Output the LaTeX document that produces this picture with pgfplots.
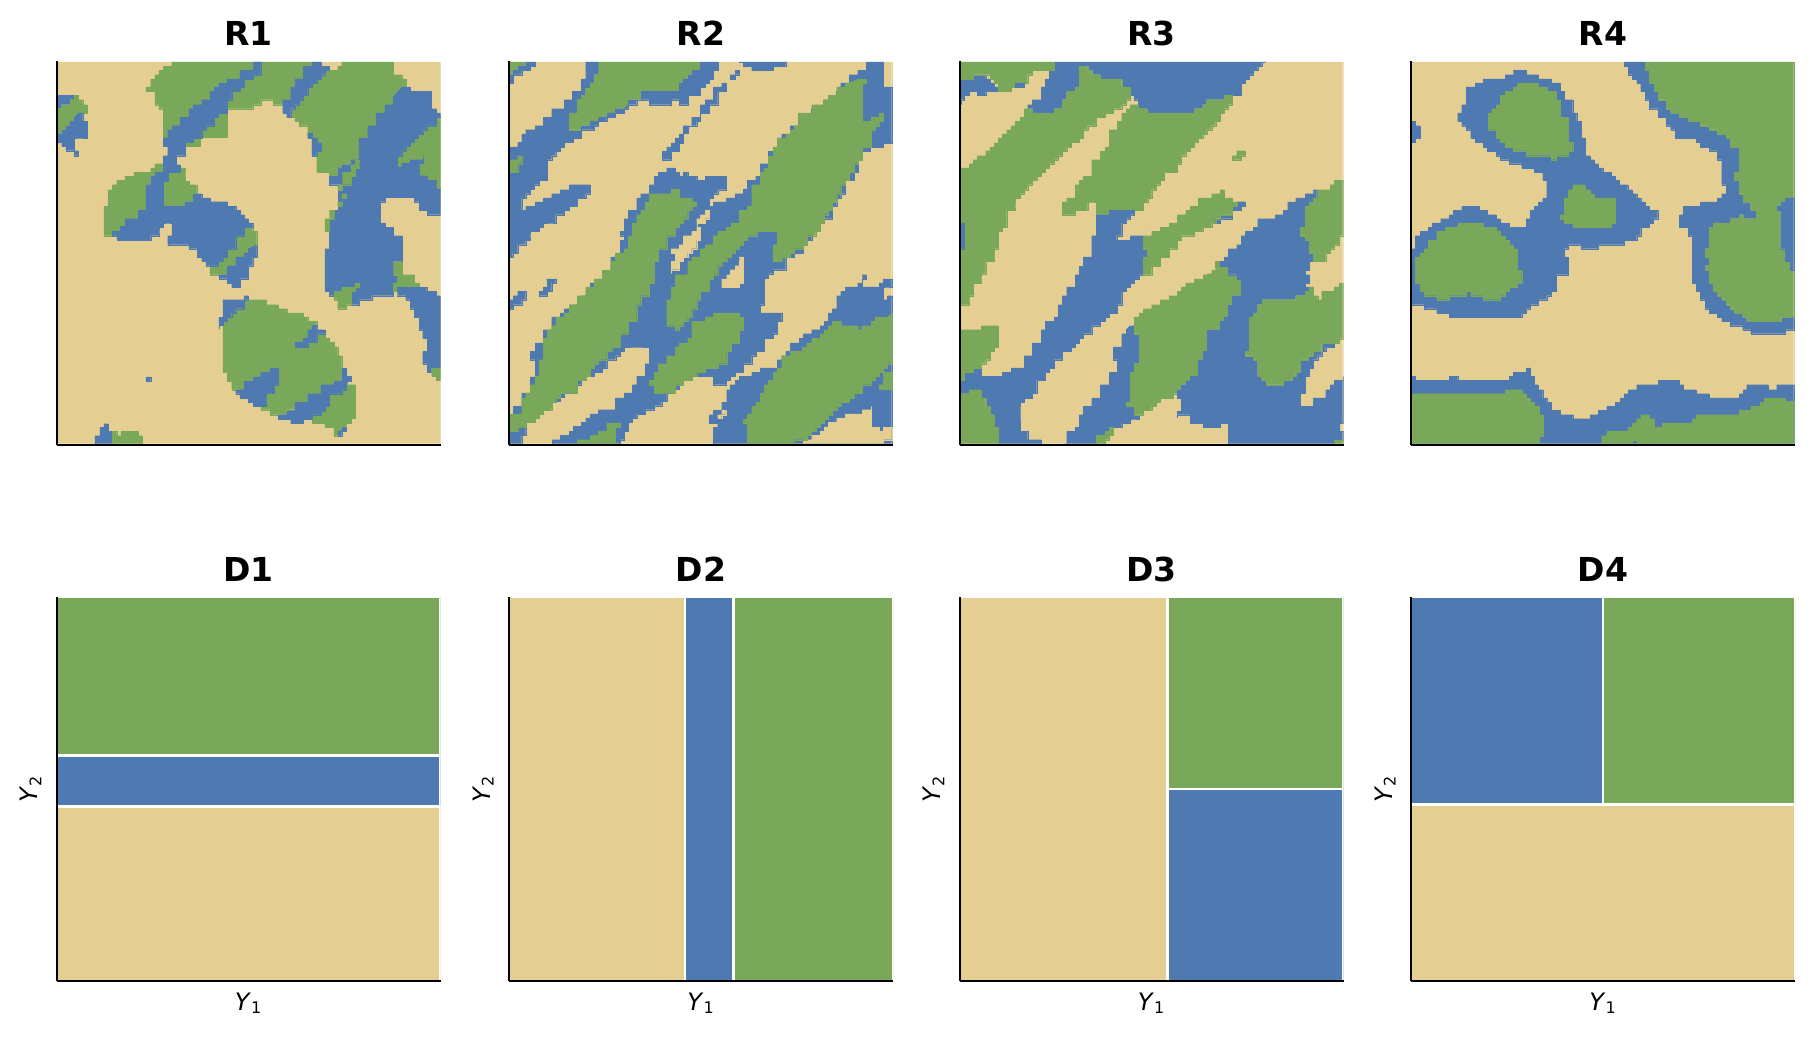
\documentclass[border=0pt]{standalone}
\usepackage{fontspec}
\setmainfont{DejaVu Sans}
\usepackage{pgfplots}
\pgfplotsset{compat=1.18}
\definecolor{cb}{RGB}{78,121,177}
\definecolor{cg}{RGB}{122,168,91}
\definecolor{ct}{RGB}{228,206,146}
\pgfplotsset{stepcb/.style={const plot},stepct/.style={const plot},stepcg/.style={const plot mark right}}
\newcommand\poly[2]{\addplot[step#1,draw=#1,line width=0.15pt,fill=#1] coordinates {#2};}
\newcommand\rect[2]{\addplot[draw=white,line width=1.3pt,fill=#1] coordinates {#2};}
\pgfplotsset{
 panel/.style={scale only axis,width=192pt,height=192pt,anchor=south west,
  xtick=\empty,ytick=\empty,axis on top,clip=true,
  axis line style={-,line width=1pt},
  title style={at={(axis description cs:0.5,1)},anchor=base,yshift=1.7pt,font=\fontsize{16.5}{19}\selectfont\bfseries},
  every axis x label/.style={at={(axis description cs:0.5,0)},anchor=base,yshift=-14.5pt,font=\fontsize{12}{14}\selectfont},
  every axis y label/.style={at={(axis description cs:0,0.5)},anchor=base,rotate=90,yshift=9.5pt,font=\fontsize{12}{14}\selectfont}},
 toppanel/.style={panel,axis y line*=left,axis x line*=bottom,y dir=reverse,ymin=34,ymax=1186},
 botpanel/.style={panel,axis y line*=left,axis x line*=bottom,xmin=0,xmax=1,ymin=0,ymax=1,
   xlabel={\textit{Y}\textsubscript{1}},ylabel={\textit{Y}\textsubscript{2}}}
}
\begin{document}
\begin{tikzpicture}
\path[use as bounding box] (0,0) rectangle (906.5pt,519pt);
% ---------- R1
\begin{axis}[toppanel,at={(28.33pt,296.5pt)},xmin=50,xmax=1202,title={R1}]
\poly{ct}{(53,37)(1200,37)(1200,1182)(53,1182)}
\poly{cg}{(395,37)(830,37)(830,75)(745,165)(700,165)(700,150)(662,150)(662,165)(638,165)(638,177)(562,177)(562,200)(480,262)(383,290)(370,270)(370,190)(357,177)(345,165)(345,137)(332,125)(318,125)(318,112)(332,112)(345,88)(357,75)(370,62)(383,50)(395,50)}
\poly{cg}{(905,37)(1060,37)(1060,75)(1085,75)(1098,88)(1098,125)(1060,190)(957,330)(930,345)(905,345)(893,355)(868,380)(843,368)(830,368)(830,318)(816,318)(816,265)(803,265)(803,240)(778,228)(765,215)(752,203)(752,190)(765,177)(777,165)(790,150)(803,137)(815,112)(830,100)(843,88)(855,75)(868,62)(893,62)(893,50)(905,50)}
\poly{cg}{(1060,200)(1200,200)(1200,420)(1137,420)(1137,385)(1060,385)}
\poly{cg}{(420,355)(435,355)(435,368)(447,395)(470,405)(470,432)(460,432)(435,456)(435,470)(365,470)(365,410)(378,385)(385,360)}
\poly{cg}{(345,342)(370,342)(370,355)(345,368)(332,380)(332,405)(330,470)(320,500)(295,520)(268,540)(235,560)(215,558)(192,558)(192,470)(204,470)(204,432)(217,420)(230,405)(255,392)(282,380)(305,368)(332,368)(332,355)(345,355)}
\poly{cg}{(612,533)(638,533)(650,545)(650,600)(625,620)(600,640)(575,660)(550,675)(510,675)(510,640)(548,620)(575,585)(600,545)}
\poly{cb}{(640,37)(662,37)(662,75)(638,88)(612,112)(600,125)(575,150)(562,177)(562,190)(535,203)(523,228)(498,240)(485,265)(460,265)(460,278)(436,278)(436,318)(408,318)(408,345)(420,345)(420,368)(395,368)(385,395)(370,420)(370,470)(435,470)(435,456)(460,432)(485,432)(485,445)(510,445)(510,456)(562,456)(562,470)(587,470)(587,482)(600,482)(600,495)(612,495)(612,507)(625,507)(625,520)(638,520)(638,533)(625,533)(612,558)(587,585)(587,597)(575,597)(562,622)(548,635)(535,648)(510,648)(498,635)(485,622)(472,622)(472,597)(447,597)(447,585)(383,585)(383,558)(396,558)(396,520)(383,520)(370,533)(357,545)(357,558)(332,558)(332,572)(231,572)(231,558)(217,558)(217,545)(230,545)(240,530)(255,507)(282,507)(295,482)(318,470)(318,405)(332,405)(332,380)(345,368)(370,355)(370,318)(383,318)(383,290)(370,290)(370,265)(383,265)(383,240)(396,228)(420,203)(447,177)(460,165)(485,150)(510,125)(523,112)(537,100)(562,88)(600,62)(640,50)}
\poly{cb}{(650,585)(650,622)(638,622)(638,648)(625,648)(625,687)(600,687)(600,713)(575,713)(575,700)(562,700)(562,687)(537,687)(537,675)(562,648)(587,622)(612,610)(625,597)}
\poly{cb}{(816,37)(843,37)(843,50)(855,50)(868,62)(855,75)(843,88)(830,100)(815,112)(803,137)(790,150)(777,165)(765,177)(752,190)(752,203)(740,203)(740,190)(728,190)(728,150)(740,150)(752,137)(752,112)(765,112)(765,88)(790,88)(790,50)(816,50)}
\poly{cb}{(803,250)(816,250)(816,265)(830,265)(830,280)(843,280)(843,305)(830,305)(830,318)(816,318)(816,265)(803,265)}
\poly{cb}{(1085,112)(1110,112)(1110,125)(1173,125)(1173,177)(1188,177)(1188,190)(1200,190)(1200,203)(1188,203)(1188,228)(1175,228)(1160,240)(1148,253)(1135,265)(1122,278)(1110,290)(1097,303)(1085,320)(1072,330)(1072,352)(1085,352)(1085,340)(1110,340)(1110,330)(1150,318)(1150,340)(1137,345)(1137,378)(1160,392)(1188,405)(1188,418)(1200,418)(1200,495)(1162,495)(1162,482)(1137,482)(1137,456)(1122,456)(1122,443)(1035,443)(1035,456)(1020,456)(1020,520)(1035,520)(1035,533)(1060,533)(1060,558)(1086,558)(1086,636)(1060,636)(1060,675)(1072,675)(1072,700)(1060,700)(1060,738)(995,738)(995,750)(957,750)(957,765)(933,765)(933,725)(920,725)(905,713)(905,725)(880,725)(880,738)(868,738)(868,725)(855,725)(855,597)(868,597)(868,508)(880,482)(895,470)(895,420)(905,405)(880,405)(868,392)(868,380)(893,355)(905,345)(933,330)(957,318)(957,265)(983,228)(1008,190)(1035,165)(1060,140)}
\poly{cg}{(907,368)(933,368)(933,355)(945,345)(957,330)(957,342)(945,355)(933,380)(933,395)(907,405)}
\poly{cg}{(868,482)(882,482)(882,507)(868,507)(868,545)(855,545)(855,507)(868,507)}
\poly{cg}{(893,456)(905,456)(905,470)(893,470)}
\poly{cg}{(905,432)(918,432)(918,445)(905,445)}
\poly{cg}{(893,405)(905,405)(905,420)(893,420)}
\poly{cg}{(945,700)(957,700)(957,713)(945,713)(945,725)(933,725)(933,765)(918,765)(918,777)(893,777)(893,750)(882,750)(882,725)(905,725)(905,713)(945,713)}
\poly{cb}{(53,137)(103,137)(103,150)(90,150)(90,165)(65,165)(65,177)(53,177)}
\poly{cg}{(53,177)(65,177)(65,165)(90,165)(90,150)(103,150)(103,137)(115,137)(115,150)(128,150)(128,165)(141,165)(141,190)(115,190)(103,203)(90,215)(78,228)(65,240)(53,253)}
\poly{cb}{(115,190)(128,190)(128,215)(141,215)(141,265)(115,265)(103,278)(103,303)(115,303)(115,318)(103,318)(103,303)(78,303)(78,290)(65,290)(65,278)(53,278)(53,253)(65,240)(78,228)(90,215)(103,203)}
\poly{cg}{(612,750)(678,750)(678,765)(715,765)(715,777)(740,777)(740,790)(790,790)(790,803)(803,803)(803,815)(830,815)(830,840)(855,852)(868,865)(882,878)(882,892)(893,892)(893,918)(905,918)(905,980)(920,995)(945,1005)(945,1105)(933,1105)(933,1120)(918,1120)(918,1133)(905,1145)(893,1158)(882,1158)(882,1145)(855,1133)(855,1120)(816,1120)(816,1105)(740,1080)(728,1095)(690,1095)(690,1080)(662,1080)(662,1070)(640,1060)(600,1040)(587,1020)(575,1020)(575,995)(562,995)(562,968)(549,968)(549,815)(562,815)(562,803)(575,803)(575,790)(587,790)(587,777)(612,777)}
\poly{cb}{(549,750)(612,750)(612,738)(625,738)(625,750)(612,750)(612,777)(587,777)(587,790)(575,790)(575,803)(562,803)(562,815)(549,815)(549,827)(537,840)(537,803)(549,803)}
\poly{cb}{(816,827)(830,827)(830,840)(855,840)(855,852)(843,852)(830,878)(803,878)(803,892)(765,892)(765,878)(778,878)(790,865)(803,840)(816,840)}
\poly{cb}{(690,955)(715,955)(715,1005)(703,1005)(703,1030)(690,1030)(678,1045)(678,1070)(640,1070)(640,1058)(625,1058)(625,1045)(600,1045)(600,1032)(587,1032)(587,1020)(600,1020)(612,995)(640,995)(640,982)(662,982)(662,968)(690,968)}
\poly{cb}{(905,955)(918,955)(918,980)(933,980)(933,995)(918,995)(918,1020)(905,1020)(905,1032)(893,1032)(868,1045)(868,1070)(855,1083)(843,1095)(816,1108)(790,1108)(790,1120)(752,1120)(752,1108)(715,1108)(715,1095)(740,1095)(740,1083)(765,1058)(803,1045)(803,1032)(830,1032)(843,1020)(843,1005)(868,1005)(882,995)(905,980)}
\poly{cb}{(893,1145)(905,1145)(905,1133)(918,1133)(918,1145)(905,1145)(905,1158)(893,1158)}
\poly{cb}{(318,982)(332,982)(332,994)(318,994)}
\poly{cb}{(165,1182)(165,1158)(180,1158)(180,1133)(192,1133)(192,1122)(204,1122)(204,1145)(217,1145)(217,1182)}
\poly{cg}{(217,1182)(217,1145)(230,1145)(230,1158)(243,1158)(243,1145)(295,1145)(295,1158)(306,1158)(306,1182)}
\poly{cg}{(1060,636)(1086,636)(1086,675)(1122,675)(1122,700)(1137,700)(1137,713)(1072,713)(1072,725)(1060,725)(1060,700)(1072,700)(1072,675)(1060,675)}
\poly{cb}{(1072,713)(1160,713)(1160,725)(1188,725)(1188,738)(1200,738)(1200,955)(1175,955)(1175,968)(1162,968)(1162,942)(1148,942)(1148,905)(1162,905)(1162,866)(1148,866)(1148,840)(1137,840)(1137,803)(1122,803)(1122,777)(1110,777)(1110,750)(1097,750)(1097,738)(1072,738)}
\poly{cg}{(1175,955)(1200,955)(1200,992)(1188,992)(1188,980)(1175,980)(1175,968)}
\end{axis}
% ---------- R2
\begin{axis}[toppanel,at={(254.5pt,296.5pt)},xmin=42,xmax=1194,title={R2}]
\poly{ct}{(45,37)(1190,37)(1190,1182)(45,1182)}
\poly{cb}{(272,37)(310,37)(310,75)(297,100)(285,115)(272,140)(258,150)(246,165)(246,190)(222,205)(222,240)(258,240)(258,265)(235,265)(235,278)(208,292)(196,305)(182,318)(170,330)(157,342)(157,392)(132,392)(132,405)(118,418)(105,432)(92,445)(80,457)(80,482)(92,482)(92,470)(120,470)(120,457)(145,457)(145,445)(170,445)(170,432)(196,432)(196,420)(222,420)(222,405)(285,405)(285,432)(272,432)(272,445)(246,445)(246,470)(222,470)(222,482)(208,482)(208,495)(196,495)(182,520)(170,520)(145,533)(132,545)(105,558)(105,572)(92,572)(92,585)(68,597)(68,610)(53,610)(53,622)(45,622)(45,292)(68,278)(80,253)(92,240)(120,240)(120,228)(132,228)(145,203)(170,177)(196,177)(208,150)(232,125)(258,112)(258,88)(272,88)}
\poly{cg}{(310,37)(616,37)(616,50)(590,62)(578,75)(565,88)(552,100)(552,112)(540,125)(437,125)(437,137)(400,150)(400,165)(385,177)(360,177)(335,190)(310,203)(285,215)(258,228)(258,240)(222,240)(222,203)(246,190)(246,165)(258,150)(272,137)(285,115)(297,100)(310,75)}
\poly{cg}{(45,330)(68,330)(68,318)(80,318)(80,342)(68,342)(68,355)(45,368)}
\poly{cg}{(45,37)(92,37)(92,50)(68,50)(68,62)(45,75)}
\poly{cb}{(92,37)(120,37)(120,50)(105,50)(105,62)(80,62)(80,75)(55,88)(55,100)(45,100)(45,75)(55,62)(68,62)(68,50)(92,50)}
\poly{cb}{(616,37)(670,37)(670,62)(655,62)(655,88)(643,100)(630,112)(616,137)(580,137)(580,165)(552,165)(552,150)(528,150)(528,165)(463,165)(463,150)(425,150)(425,165)(400,165)(400,150)(437,137)(437,125)(540,125)(552,112)(552,100)(565,88)(578,75)(590,62)(616,50)}
\poly{cb}{(400,165)(400,177)(387,177)(387,190)(360,190)(360,203)(335,203)(335,215)(310,215)(310,228)(297,228)(297,240)(258,240)(258,228)(285,215)(310,203)(335,190)(360,177)(385,177)}
\poly{cb}{(733,37)(872,37)(872,50)(835,50)(835,62)(770,62)(770,50)(745,50)(745,37)}
\poly{cb}{(720,62)(733,62)(733,75)(720,75)(720,88)(705,88)(705,75)(720,75)}
\poly{cb}{(680,100)(693,100)(693,125)(680,125)(668,150)(668,165)(643,165)(643,190)(616,190)(616,215)(605,228)(580,240)(580,250)(565,250)(565,280)(552,280)(552,305)(528,318)(528,330)(502,330)(502,305)(515,292)(528,292)(528,280)(540,280)(540,265)(552,265)(552,253)(565,253)(565,228)(578,228)(590,203)(605,203)(616,165)(630,150)(655,137)(655,112)(680,112)}
\poly{cb}{(515,355)(540,355)(540,368)(552,368)(552,380)(565,380)(565,368)(578,368)(578,380)(605,380)(605,392)(630,392)(630,380)(693,380)(693,420)(680,420)(668,432)(655,445)(643,457)(643,470)(655,470)(655,457)(693,457)(693,445)(720,445)(720,432)(745,432)(745,418)(757,405)(757,392)(782,392)(782,380)(795,368)(795,342)(820,342)(820,305)(835,305)(847,292)(847,265)(860,265)(860,253)(885,240)(885,228)(910,215)(910,203)(948,190)(948,177)(985,165)(985,150)(1000,137)(1023,125)(1037,112)(1037,100)(1062,88)(1062,75)(1088,75)(1088,62)(1113,50)(1113,37)(1165,37)(1165,112)(1190,112)(1190,280)(1165,280)(1165,292)(1125,292)(1125,305)(1102,318)(1102,330)(1090,342)(1090,368)(1077,380)(1077,392)(1050,405)(1050,432)(1037,445)(1025,470)(1012,482)(1012,507)(985,520)(975,545)(950,558)(950,572)(937,585)(925,597)(925,610)(898,622)(872,635)(872,660)(835,672)(820,685)(808,700)(808,765)(795,765)(795,790)(860,790)(860,815)(847,815)(847,852)(835,852)(835,866)(808,880)(808,905)(783,918)(770,942)(745,942)(745,968)(720,968)(720,980)(705,992)(693,1005)(655,1005)(655,980)(605,980)(590,992)(565,992)(565,1005)(552,1018)(540,1030)(515,1042)(515,1055)(500,1068)(478,1068)(478,1080)(450,1080)(450,1093)(425,1093)(425,1105)(412,1105)(412,1118)(400,1118)(400,1145)(387,1145)(387,1170)(375,1170)(375,1182)(172,1182)(172,1170)(196,1170)(196,1157)(222,1145)(235,1130)(258,1118)(272,1105)(285,1093)(310,1080)(360,1068)(360,1045)(387,1030)(412,1018)(412,1005)(425,1005)(425,980)(450,980)(450,942)(463,942)(463,892)(425,892)(387,905)(375,918)(362,930)(335,955)(322,968)(297,980)(272,992)(258,1005)(245,1018)(235,1030)(208,1043)(196,1055)(170,1068)(157,1082)(145,1093)(132,1105)(120,1118)(92,1132)(92,1157)(80,1170)(80,1182)(45,1182)(45,1095)(55,1095)(55,1070)(80,1058)(80,1030)(92,1030)(105,1018)(105,982)(120,982)(120,930)(105,930)(105,905)(120,905)(120,880)(145,866)(145,840)(170,828)(170,802)(196,790)(208,777)(222,765)(246,750)(258,738)(272,725)(285,700)(310,688)(322,675)(335,662)(347,650)(347,622)(375,610)(375,572)(387,558)(375,545)(387,507)(400,482)(425,470)(425,445)(437,432)(463,420)(463,405)(477,392)(477,380)(490,368)(515,368)}
\poly{cg}{(1090,88)(1113,88)(1113,100)(1102,100)(1102,190)(1128,215)(1128,203)(1152,203)(1152,190)(1165,190)(1165,215)(1152,215)(1140,228)(1128,240)(1128,280)(1102,292)(1102,318)(1090,330)(1077,342)(1062,368)(1050,392)(1037,405)(1025,432)(1012,457)(1000,482)(987,495)(975,520)(962,545)(937,558)(937,572)(925,585)(898,597)(885,610)(860,622)(860,635)(835,635)(835,597)(847,585)(847,545)(785,545)(785,558)(757,558)(757,572)(745,572)(732,585)(720,597)(708,610)(695,622)(680,635)(668,648)(668,672)(655,675)(643,688)(643,712)(630,725)(616,725)(616,750)(605,750)(605,777)(590,777)(578,802)(565,815)(552,828)(552,840)(540,840)(540,828)(515,828)(515,790)(528,765)(515,765)(515,750)(528,750)(528,725)(540,712)(540,700)(578,675)(578,645)(590,635)(616,622)(630,597)(655,585)(668,558)(693,545)(708,533)(733,520)(733,495)(757,482)(770,470)(770,430)(795,405)(795,392)(808,368)(820,355)(835,320)(847,292)(872,265)(885,253)(898,240)(910,228)(950,190)(985,165)(1000,150)(1025,137)(1050,112)(1062,100)}
\poly{cg}{(528,418)(552,418)(552,445)(590,445)(590,457)(603,457)(603,470)(590,470)(578,482)(578,507)(565,507)(552,520)(540,533)(515,558)(515,585)(502,597)(490,597)(490,635)(477,635)(477,700)(463,700)(463,725)(437,738)(437,765)(425,765)(425,802)(400,815)(400,840)(375,852)(375,880)(350,892)(335,905)(310,930)(297,942)(285,955)(272,980)(246,992)(246,1018)(222,1030)(196,1030)(182,1045)(170,1058)(145,1082)(132,1093)(120,1105)(92,1118)(80,1132)(68,1132)(68,1145)(45,1145)(45,1107)(80,1093)(80,1070)(92,1045)(105,1030)(120,1005)(132,980)(132,955)(145,930)(145,905)(157,866)(170,840)(182,828)(208,802)(222,790)(246,765)(272,738)(297,712)(322,688)(347,662)(360,635)(387,610)(400,597)(412,558)(425,520)(437,495)(450,482)(463,457)(490,432)(528,432)}
\poly{cg}{(655,790)(733,790)(733,802)(745,802)(745,840)(733,840)(733,866)(708,880)(708,905)(695,905)(670,942)(630,955)(630,968)(605,968)(590,980)(565,992)(540,1005)(540,1018)(528,1030)(477,1030)(477,1005)(463,1005)(463,992)(477,992)(490,968)(515,942)(515,930)(540,918)(552,892)(578,880)(590,866)(590,840)(616,815)(630,815)(630,802)(655,802)}
\poly{ct}{(630,482)(643,482)(643,507)(630,507)(630,520)(605,533)(605,507)(616,507)(616,495)(630,495)}
\poly{ct}{(590,545)(605,533)(616,545)(616,572)(605,585)(605,597)(590,610)(578,622)(565,635)(552,648)(552,660)(528,672)(528,635)(540,635)(540,610)(528,610)(528,597)(552,585)(565,558)(590,558)}
\poly{ct}{(733,622)(745,622)(745,700)(733,713)(680,713)(680,688)(695,675)(705,660)(720,648)(733,635)}
\poly{cg}{(247,1182)(247,1170)(285,1170)(285,1157)(310,1157)(310,1145)(335,1145)(335,1132)(347,1120)(375,1120)(375,1132)(360,1132)(360,1182)}
\poly{cb}{(1102,675)(1113,675)(1113,688)(1102,688)(1102,712)(1152,712)(1152,700)(1165,700)(1165,688)(1190,688)(1190,712)(1177,712)(1165,725)(1165,750)(1177,750)(1177,738)(1190,738)(1190,1182)(655,1182)(655,1133)(668,1133)(668,1120)(643,1120)(643,1095)(655,1095)(655,1082)(670,1082)(680,1058)(695,1045)(695,1020)(705,1005)(720,1005)(720,992)(733,980)(745,980)(770,968)(795,968)(795,955)(835,955)(847,942)(847,930)(860,918)(872,905)(885,880)(912,866)(925,852)(950,840)(975,828)(987,815)(1000,802)(1000,790)(1012,777)(1025,765)(1025,738)(1037,725)(1050,712)(1077,712)(1088,700)(1102,700)}
\poly{ct}{(925,1182)(925,1170)(950,1157)(975,1145)(987,1132)(1000,1118)(1025,1105)(1050,1093)(1102,1080)(1128,1070)(1128,1133)(1152,1133)(1152,1145)(1165,1145)(1165,1133)(1190,1133)(1190,1170)(1165,1170)(1165,1182)}
\poly{cg}{(1190,790)(1190,930)(1177,942)(1165,955)(1152,968)(1140,980)(1128,992)(1102,1005)(1102,1018)(1077,1030)(1062,1045)(1037,1058)(1025,1070)(1012,1082)(1000,1095)(987,1108)(975,1120)(962,1132)(948,1145)(937,1157)(925,1170)(898,1170)(898,1182)(757,1182)(757,1133)(745,1120)(757,1108)(770,1093)(782,1070)(795,1058)(808,1030)(820,1005)(835,992)(847,968)(860,955)(860,942)(885,918)(922,905)(935,892)(950,880)(975,866)(987,852)(1000,840)(1012,828)(1037,815)(1050,828)(1088,828)(1088,852)(1100,840)(1128,828)(1140,815)(1152,802)(1177,802)}
\poly{cg}{(1165,980)(1190,968)(1190,1018)(1152,1018)(1152,1005)(1165,1005)(1165,992)}
\poly{ct}{(680,1082)(693,1082)(693,1095)(680,1095)(680,1105)(668,1105)(668,1095)(680,1095)}
\poly{cb}{(155,688)(182,688)(182,700)(170,700)(170,725)(157,725)(157,738)(132,738)(132,725)(145,725)(145,712)(157,712)}
\poly{cb}{(68,725)(92,725)(92,750)(80,750)(80,765)(55,765)(55,777)(45,777)(45,750)(55,750)(55,738)(68,738)}
\end{axis}
% ---------- R3
\begin{axis}[toppanel,at={(479.83pt,296.5pt)},xmin=44,xmax=1196,title={R3}]
\poly{ct}{(47,37)(1193,37)(1193,1182)(47,1182)}
\poly{cb}{(327,37)(963,37)(950,50)(938,62)(925,75)(913,88)(900,100)(888,112)(888,137)(862,150)(862,137)(838,137)(838,150)(785,150)(785,165)(773,165)(773,177)(747,177)(747,190)(605,190)(605,177)(592,177)(580,150)(567,137)(555,112)(530,100)(530,88)(465,88)(465,75)(440,75)(440,62)(428,62)(428,50)(402,50)(402,112)(390,112)(390,125)(365,137)(365,150)(352,150)(352,177)(327,177)(327,190)(262,190)(262,177)(248,177)(248,165)(262,165)(262,150)(288,150)(288,112)(300,112)(300,88)(313,88)(313,62)(327,62)}
\poly{cb}{(47,88)(85,88)(85,75)(122,75)(122,88)(135,88)(135,100)(147,100)(147,112)(160,112)(160,125)(122,125)(122,137)(97,137)(97,125)(72,137)(58,150)(47,165)}
\poly{cg}{(47,37)(327,37)(327,62)(300,62)(288,62)(262,62)(262,75)(248,75)(248,88)(210,100)(210,112)(198,112)(198,125)(160,125)(160,112)(147,100)(135,88)(122,75)(85,75)(85,88)(47,88)}
\poly{cb}{(210,100)(237,100)(237,112)(210,112)}
\poly{cg}{(47,370)(72,355)(85,342)(97,330)(122,318)(135,303)(147,292)(160,280)(172,265)(185,253)(198,240)(210,228)(225,215)(237,203)(237,177)(262,177)(262,190)(327,190)(327,177)(352,177)(352,150)(365,150)(365,137)(390,125)(390,112)(402,112)(402,50)(428,50)(428,62)(440,62)(440,75)(465,75)(465,88)(530,88)(530,100)(555,112)(555,137)(543,150)(530,165)(505,177)(480,190)(453,203)(428,228)(415,240)(402,265)(378,278)(365,292)(352,305)(340,318)(327,330)(312,342)(300,355)(288,368)(275,380)(262,392)(248,405)(237,420)(225,432)(210,445)(210,470)(185,482)(185,507)(172,533)(160,545)(160,597)(147,597)(147,622)(135,635)(122,635)(122,660)(108,672)(108,688)(85,700)(85,725)(72,738)(72,750)(47,765)}
\poly{cb}{(47,520)(58,520)(58,597)(47,597)}
\poly{cg}{(555,165)(580,165)(592,177)(605,177)(605,190)(747,190)(747,177)(773,177)(773,165)(785,165)(785,150)(838,150)(838,137)(862,137)(862,150)(850,165)(838,177)(825,190)(825,215)(812,215)(800,228)(785,240)(773,253)(760,265)(747,278)(735,292)(722,305)(708,318)(708,342)(697,342)(697,355)(658,368)(645,392)(633,405)(620,420)(608,445)(595,457)(595,482)(492,482)(492,495)(453,495)(453,470)(440,457)(428,457)(428,470)(390,482)(390,495)(352,495)(352,470)(365,457)(390,445)(390,420)(402,405)(415,392)(440,380)(440,342)(465,330)(480,305)(492,292)(492,265)(517,240)(530,215)(543,190)(555,177)}
\poly{cg}{(875,303)(900,303)(900,318)(888,318)(888,330)(862,330)(862,318)(875,318)}
\poly{cb}{(453,495)(492,495)(492,482)(567,482)(567,495)(555,507)(543,520)(530,533)(530,558)(515,558)(515,572)(555,572)(555,558)(595,558)(595,597)(606,597)(606,622)(595,622)(595,675)(582,688)(567,700)(555,712)(543,725)(530,738)(530,765)(517,765)(517,790)(492,802)(480,815)(465,828)(440,852)(415,866)(402,880)(390,892)(378,905)(352,930)(327,955)(312,968)(300,992)(275,1005)(275,1030)(262,1045)(237,1058)(225,1082)(225,1145)(237,1145)(248,1157)(248,1170)(288,1170)(288,1182)(160,1182)(160,1133)(147,1133)(147,1095)(135,1070)(122,1045)(108,1030)(72,1020)(72,1032)(47,1032)(47,992)(58,968)(85,968)(85,955)(108,955)(108,980)(172,980)(172,968)(198,968)(198,955)(237,942)(237,918)(262,905)(262,880)(288,866)(288,840)(300,815)(327,802)(340,790)(340,765)(352,738)(365,712)(390,700)(390,675)(402,650)(415,622)(440,610)(440,558)(453,558)}
\poly{cg}{(47,852)(58,840)(108,840)(108,828)(160,828)(160,892)(147,892)(147,905)(135,905)(135,930)(122,930)(108,942)(108,955)(85,955)(85,968)(58,968)(58,992)(47,992)}
\poly{cg}{(47,1032)(72,1032)(72,1020)(108,1020)(108,1045)(122,1045)(135,1070)(147,1095)(147,1133)(160,1133)(160,1182)(47,1182)}
\poly{cb}{(555,828)(567,828)(567,852)(582,852)(582,942)(567,942)(567,968)(555,968)(555,1058)(543,1058)(543,1070)(567,1082)(567,1095)(582,1095)(582,1108)(567,1108)(555,1120)(530,1133)(505,1145)(492,1145)(480,1157)(453,1157)(453,1182)(352,1182)(365,1145)(390,1133)(402,1095)(415,1070)(440,1045)(465,1030)(465,1005)(492,992)(492,968)(517,950)(517,930)(505,918)(505,892)(530,880)(530,852)(543,840)}
\poly{cg}{(810,650)(825,635)(825,650)(850,650)(850,662)(875,675)(875,688)(888,688)(888,712)(862,738)(862,765)(850,765)(850,790)(838,802)(825,815)(825,828)(787,840)(787,905)(773,905)(773,930)(760,930)(760,968)(735,980)(722,995)(708,1005)(697,1020)(697,1032)(685,1032)(645,1045)(633,1058)(620,1070)(595,1082)(567,1095)(567,1082)(543,1070)(543,1058)(555,1058)(555,968)(567,968)(567,942)(582,942)(582,852)(567,852)(567,815)(582,802)(595,790)(620,777)(645,765)(672,750)(697,738)(708,725)(722,712)(747,700)(775,688)(787,675)(800,672)(812,662)}
\poly{cb}{(1105,420)(1115,420)(1115,457)(1092,470)(1080,482)(1080,533)(1065,533)(1065,558)(1080,558)(1080,572)(1092,572)(1092,610)(1105,622)(1105,635)(1092,650)(1092,662)(1080,662)(1080,675)(1092,675)(1092,700)(1080,700)(1080,712)(1092,712)(1092,725)(1105,738)(1052,738)(1052,750)(952,750)(952,765)(938,765)(938,790)(925,790)(925,802)(912,802)(912,905)(900,905)(900,918)(925,930)(938,942)(938,980)(950,992)(963,1005)(1013,1005)(1013,992)(1040,980)(1052,968)(1065,955)(1065,930)(1090,918)(1105,905)(1130,892)(1130,880)(1168,880)(1168,892)(1142,905)(1130,918)(1118,930)(1105,955)(1092,980)(1080,1000)(1080,1030)(1065,1032)(1065,1070)(1092,1070)(1105,1045)(1130,1045)(1142,1020)(1155,1005)(1168,992)(1193,980)(1193,1120)(1182,1120)(1182,1145)(1193,1145)(1193,1172)(1168,1172)(1168,1182)(850,1182)(850,1120)(825,1120)(825,1133)(775,1133)(775,1120)(735,1120)(735,1095)(697,1105)(697,1085)(708,1085)(708,1045)(697,1032)(697,1020)(708,1005)(722,995)(735,980)(760,968)(760,930)(773,930)(773,905)(787,905)(787,840)(825,828)(825,815)(838,802)(850,790)(850,765)(862,765)(862,738)(888,712)(888,688)(875,688)(875,675)(850,662)(850,650)(825,650)(825,635)(838,635)(838,622)(850,610)(850,597)(875,585)(888,572)(888,558)(900,545)(925,533)(938,520)(938,507)(963,507)(990,495)(1015,482)(1028,470)(1028,457)(1052,457)(1052,445)(1080,445)(1080,432)(1105,432)}
\poly{cb}{(875,456)(900,456)(900,470)(888,470)(888,482)(862,495)(862,507)(825,507)(825,520)(810,520)(810,507)(825,495)(862,495)(862,470)(875,470)}
\poly{cg}{(825,420)(838,420)(838,445)(862,445)(875,457)(875,470)(862,470)(862,495)(825,495)(812,507)(800,520)(800,533)(773,533)(773,545)(747,545)(747,558)(708,558)(708,572)(697,572)(672,597)(645,622)(620,650)(595,675)(595,622)(606,622)(606,597)(595,597)(595,558)(620,558)(620,545)(645,545)(645,533)(672,533)(672,520)(697,520)(697,507)(722,495)(735,482)(735,470)(760,470)(760,457)(773,445)(800,445)(800,432)(825,432)}
\poly{cg}{(1167,392)(1193,392)(1193,558)(1182,558)(1182,585)(1168,585)(1155,597)(1142,610)(1130,635)(1105,635)(1105,622)(1092,610)(1092,572)(1080,572)(1080,558)(1065,558)(1065,533)(1080,533)(1080,482)(1092,470)(1105,457)(1118,445)(1118,432)(1130,420)(1155,420)(1155,405)(1167,405)}
\poly{cg}{(1193,700)(1193,867)(1182,867)(1182,880)(1130,880)(1130,892)(1105,905)(1090,918)(1065,930)(1065,955)(1052,968)(1040,980)(1013,992)(1013,1005)(963,1005)(950,992)(938,980)(938,942)(925,930)(900,918)(900,905)(912,905)(912,802)(925,802)(925,790)(938,790)(938,765)(952,765)(952,750)(1052,750)(1052,738)(1080,738)(1080,725)(1092,725)(1105,712)(1105,725)(1118,738)(1118,750)(1130,750)(1130,738)(1142,725)(1168,725)(1168,712)(1182,712)(1182,700)}
\poly{cg}{(453,1157)(480,1157)(480,1145)(492,1145)(492,1133)(505,1133)(505,1145)(492,1157)(480,1170)(465,1182)(453,1182)}
\poly{cg}{(1168,1172)(1193,1172)(1193,1182)(1168,1182)}
\end{axis}
% ---------- R4
\begin{axis}[toppanel,at={(705.5pt,296.5pt)},xmin=33,xmax=1185,title={R4}]
\poly{ct}{(36,37)(1181,37)(1181,1182)(36,1182)}
\poly{cb}{(340,62)(378,62)(378,75)(415,75)(415,88)(453,88)(453,100)(480,100)(480,125)(492,125)(492,150)(518,150)(518,190)(530,190)(530,215)(543,215)(543,265)(555,265)(555,318)(570,318)(570,330)(582,330)(582,342)(595,342)(595,355)(608,355)(608,368)(633,368)(633,380)(645,380)(645,392)(658,392)(658,405)(683,405)(683,420)(697,420)(697,432)(710,432)(710,445)(722,445)(722,457)(735,457)(735,470)(748,470)(748,482)(773,482)(773,507)(760,507)(760,520)(748,520)(748,533)(735,533)(722,545)(722,558)(710,558)(710,572)(672,572)(672,585)(595,585)(595,597)(543,597)(543,585)(505,585)(505,597)(492,597)(492,622)(505,622)(505,675)(468,675)(468,725)(453,725)(453,738)(440,738)(440,750)(415,750)(415,765)(390,765)(390,777)(378,777)(378,790)(365,790)(365,802)(147,802)(147,790)(110,790)(110,777)(72,777)(72,765)(36,765)(36,597)(45,572)(45,558)(60,545)(85,545)(85,533)(97,520)(122,520)(122,507)(147,507)(147,495)(160,495)(160,482)(185,482)(185,470)(237,470)(237,482)(262,482)(262,495)(288,495)(288,507)(300,507)(300,520)(327,520)(327,533)(378,533)(378,507)(390,507)(390,482)(403,482)(403,470)(415,470)(415,457)(428,457)(428,445)(440,445)(440,392)(428,392)(428,368)(403,368)(403,355)(365,355)(365,342)(327,342)(327,330)(300,330)(300,318)(288,318)(288,305)(262,305)(262,292)(250,292)(250,278)(225,278)(225,265)(212,265)(212,240)(198,240)(198,228)(185,228)(185,215)(173,215)(173,190)(185,190)(185,165)(198,165)(198,112)(225,112)(225,100)(250,100)(250,88)(315,88)(315,75)(340,75)}
\poly{cg}{(352,100)(415,100)(415,112)(440,112)(440,125)(468,125)(468,150)(480,150)(480,190)(505,203)(505,278)(518,278)(518,303)(505,303)(505,318)(468,318)(468,330)(453,330)(453,318)(378,318)(378,303)(340,303)(340,292)(315,292)(315,278)(300,278)(300,265)(288,265)(288,240)(265,240)(265,190)(275,190)(275,177)(288,177)(288,165)(300,165)(300,137)(315,137)(315,125)(340,125)(340,112)(352,112)}
\poly{cg}{(518,405)(555,405)(555,420)(570,420)(570,432)(582,432)(582,445)(645,445)(645,520)(633,520)(633,533)(518,533)(518,520)(492,520)(492,507)(480,507)(480,495)(492,495)(492,445)(505,445)(505,420)(518,420)}
\poly{cg}{(173,520)(250,520)(250,533)(288,533)(288,545)(300,545)(300,558)(315,558)(315,572)(327,572)(327,585)(340,585)(340,597)(352,597)(352,662)(365,662)(365,700)(352,700)(352,712)(327,712)(327,725)(315,725)(315,738)(300,738)(300,750)(250,750)(250,738)(212,738)(212,725)(198,725)(198,738)(147,738)(147,750)(110,750)(110,738)(72,738)(72,725)(60,725)(60,700)(45,700)(45,622)(60,622)(60,610)(72,610)(72,597)(85,597)(85,572)(110,572)(110,545)(135,545)(135,533)(173,533)}
\poly{cb}{(36,215)(45,215)(45,228)(60,228)(60,265)(45,265)(45,278)(36,278)}
\poly{cb}{(672,37)(735,37)(735,62)(748,62)(748,100)(762,100)(762,125)(775,125)(775,150)(798,150)(798,177)(812,177)(812,190)(838,190)(838,203)(865,203)(865,215)(900,215)(900,228)(927,228)(927,240)(952,240)(952,253)(978,253)(978,265)(990,265)(990,292)(1018,292)(1018,368)(1003,368)(1003,392)(1018,392)(1018,432)(1030,432)(1030,457)(1052,457)(1052,482)(1068,482)(1068,507)(1030,507)(1030,495)(1018,495)(1018,507)(990,507)(990,520)(952,520)(952,533)(940,533)(927,545)(927,597)(915,597)(915,622)(927,622)(927,648)(915,648)(915,662)(927,662)(927,700)(940,700)(940,725)(952,725)(952,738)(965,738)(965,750)(978,750)(978,765)(990,765)(990,777)(1003,777)(1003,790)(1028,790)(1028,802)(1040,802)(1040,815)(1142,815)(1142,802)(1181,802)(1181,840)(1155,840)(1155,852)(1052,852)(1052,840)(1028,840)(1028,828)(990,828)(990,815)(965,815)(965,802)(952,802)(952,790)(927,790)(927,777)(915,777)(915,750)(900,750)(900,725)(888,725)(888,700)(877,700)(877,558)(865,558)(865,533)(838,533)(838,495)(850,495)(850,470)(900,470)(900,457)(952,457)(952,445)(965,445)(965,432)(978,432)(978,405)(965,405)(965,330)(952,330)(952,303)(927,303)(927,292)(900,292)(900,278)(888,278)(888,265)(825,265)(825,240)(812,240)(812,228)(798,228)(798,203)(787,203)(775,190)(775,177)(762,177)(748,150)(735,150)(735,125)(722,125)(722,100)(710,100)(710,88)(697,88)(697,75)(685,75)(685,50)(672,50)}
\poly{cg}{(735,37)(1181,37)(1181,445)(1155,445)(1155,457)(1142,457)(1142,470)(1130,470)(1130,482)(1142,482)(1142,597)(1155,597)(1155,635)(1170,635)(1170,662)(1181,662)(1181,802)(1142,802)(1142,815)(1040,815)(1040,802)(1028,802)(1028,790)(1003,790)(1003,777)(990,777)(990,765)(978,765)(978,750)(965,750)(965,738)(952,738)(952,725)(940,725)(940,700)(927,700)(927,662)(915,662)(915,648)(927,648)(927,622)(915,622)(915,597)(927,597)(927,545)(940,533)(952,520)(990,520)(990,507)(1018,507)(1018,495)(1030,495)(1030,507)(1068,507)(1068,482)(1052,482)(1052,457)(1030,457)(1030,432)(1018,432)(1018,392)(1003,392)(1003,368)(1018,368)(1018,292)(990,292)(990,265)(978,265)(978,253)(952,253)(952,240)(927,240)(927,228)(900,228)(900,215)(865,215)(865,203)(838,203)(838,190)(812,190)(812,177)(798,177)(798,150)(775,150)(775,125)(762,125)(762,100)(748,100)(748,62)(735,62)}
\poly{cb}{(1155,445)(1181,445)(1181,662)(1170,662)(1170,635)(1155,635)(1155,597)(1142,597)(1142,482)(1130,482)(1130,470)(1142,470)(1142,457)(1155,457)}
\poly{cb}{(36,980)(45,980)(45,992)(147,992)(147,980)(173,980)(173,992)(327,992)(327,980)(340,980)(340,968)(378,968)(378,955)(390,955)(390,980)(403,980)(403,1005)(415,1005)(415,1020)(428,1020)(428,1045)(440,1045)(440,1058)(453,1058)(453,1082)(480,1082)(480,1095)(518,1095)(518,1107)(570,1107)(570,1095)(595,1095)(595,1082)(620,1082)(620,1070)(645,1070)(645,1058)(660,1058)(660,1045)(672,1045)(672,1032)(685,1032)(685,1020)(710,1020)(710,1005)(775,1005)(775,992)(838,992)(838,1005)(850,1005)(850,1020)(888,1020)(888,1032)(927,1032)(927,1045)(1018,1045)(1018,1032)(1030,1032)(1030,1020)(1040,1020)(1040,1005)(1105,1005)(1105,1020)(1130,1020)(1130,1005)(1181,1005)(1181,1182)(36,1182)}
\poly{cg}{(36,1032)(315,1032)(315,1020)(365,1020)(365,1032)(378,1032)(378,1045)(390,1045)(390,1058)(403,1058)(403,1070)(417,1070)(417,1095)(430,1095)(430,1158)(417,1158)(417,1182)(36,1182)}
\poly{cg}{(605,1182)(605,1158)(620,1158)(620,1145)(683,1145)(683,1133)(697,1133)(697,1120)(710,1120)(710,1107)(722,1107)(722,1095)(748,1095)(748,1107)(762,1107)(762,1133)(787,1133)(787,1120)(877,1120)(877,1107)(888,1107)(888,1095)(1018,1095)(1018,1082)(1052,1082)(1052,1070)(1080,1070)(1080,1058)(1092,1058)(1092,1045)(1155,1045)(1155,1055)(1181,1055)(1181,1182)(710,1182)(710,1172)(697,1172)(697,1182)}
\end{axis}
% ---------- D1..D4
\begin{axis}[botpanel,at={(28.33pt,28.5pt)},title={D1}]
\rect{ct}{(0,0)(1,0)(1,.455)(0,.455)(0,0)}
\rect{cb}{(0,.455)(1,.455)(1,.588)(0,.588)(0,.455)}
\rect{cg}{(0,.588)(1,.588)(1,1)(0,1)(0,.588)}
\end{axis}
\begin{axis}[botpanel,at={(254.5pt,28.5pt)},title={D2}]
\rect{ct}{(0,0)(.458,0)(.458,1)(0,1)(0,0)}
\rect{cb}{(.458,0)(.585,0)(.585,1)(.458,1)(.458,0)}
\rect{cg}{(.585,0)(1,0)(1,1)(.585,1)(.585,0)}
\end{axis}
\begin{axis}[botpanel,at={(479.83pt,28.5pt)},title={D3}]
\rect{ct}{(0,0)(.541,0)(.541,1)(0,1)(0,0)}
\rect{cb}{(.541,0)(1,0)(1,.5)(.541,.5)(.541,0)}
\rect{cg}{(.541,.5)(1,.5)(1,1)(.541,1)(.541,.5)}
\end{axis}
\begin{axis}[botpanel,at={(705.5pt,28.5pt)},title={D4}]
\rect{ct}{(0,0)(1,0)(1,.46)(0,.46)(0,0)}
\rect{cb}{(0,.46)(.5,.46)(.5,1)(0,1)(0,.46)}
\rect{cg}{(.5,.46)(1,.46)(1,1)(.5,1)(.5,.46)}
\end{axis}
\end{tikzpicture}
\end{document}
